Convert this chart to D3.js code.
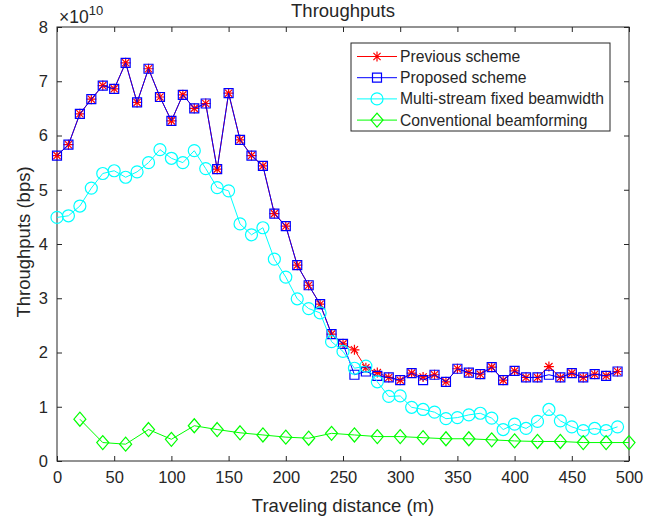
<!DOCTYPE html>
<head>
    <meta charset="utf-8">
    <style>
        body { margin: 0; background: #fff; }
        text { font-family: "Liberation Sans", Arial, sans-serif; fill: #262626; }
    </style>
</head>
<svg width="659" height="520" class="chart"></svg>
<script src="https://cdn.jsdelivr.net/npm/d3@7"></script>
<script>
    // distances (m)
    const dist = d3.range(0, 500, 10);          // 0..490
    const distConv = d3.range(20, 501, 20);     // 20..500

    // throughput values, x 1e10 bps
    const proposed = [5.63, 5.83, 6.40, 6.67, 6.92, 6.86, 7.34, 6.61, 7.23, 6.71,
                      6.27, 6.75, 6.50, 6.59, 5.38, 6.78, 5.92, 5.63, 5.44, 4.56,
                      4.33, 3.61, 3.24, 2.89, 2.34, 2.16, 1.59, 1.65, 1.57, 1.54,
                      1.49, 1.62, 1.49, 1.59, 1.46, 1.70, 1.63, 1.60, 1.73, 1.49,
                      1.66, 1.54, 1.54, 1.59, 1.54, 1.62, 1.54, 1.60, 1.57, 1.65];
    const previous = [5.63, 5.83, 6.40, 6.67, 6.92, 6.86, 7.34, 6.61, 7.23, 6.71,
                      6.27, 6.75, 6.50, 6.59, 5.38, 6.78, 5.92, 5.63, 5.44, 4.56,
                      4.33, 3.61, 3.24, 2.89, 2.34, 2.16, 2.05, 1.72, 1.63, 1.54,
                      1.49, 1.62, 1.55, 1.59, 1.46, 1.70, 1.63, 1.60, 1.73, 1.49,
                      1.66, 1.54, 1.54, 1.74, 1.54, 1.62, 1.54, 1.60, 1.57, 1.65];
    const multiStream = [4.49, 4.52, 4.70, 5.03, 5.30, 5.35, 5.23, 5.33, 5.50, 5.74,
                         5.58, 5.50, 5.72, 5.39, 5.04, 4.98, 4.37, 4.17, 4.30, 3.72,
                         3.39, 2.99, 2.81, 2.73, 2.20, 2.02, 1.71, 1.75, 1.46, 1.19,
                         1.20, 0.99, 0.95, 0.90, 0.78, 0.80, 0.85, 0.88, 0.79, 0.58,
                         0.68, 0.60, 0.73, 0.95, 0.74, 0.63, 0.56, 0.60, 0.56, 0.63];
    const conventional = [0.77, 0.34, 0.31, 0.58, 0.40, 0.65, 0.58, 0.52, 0.48, 0.44,
                          0.42, 0.51, 0.48, 0.45, 0.45, 0.43, 0.41, 0.41, 0.39, 0.37,
                          0.36, 0.36, 0.34, 0.34, 0.34];

    const xTicks = d3.range(0, 501, 50);
    const yTicks = d3.range(0, 9, 1);

    var svg = d3.select(".chart"),
        margin = {top: 27, right: 30, bottom: 59, left: 57},
        width = +svg.attr("width") - margin.left - margin.right,
        height = +svg.attr("height") - margin.top - margin.bottom;

    var x = d3.scaleLinear().domain([0, 500]).range([0, width]),
        y = d3.scaleLinear().domain([0, 8]).range([height, 0]);

    var g = svg.append("g")
        .attr("transform", "translate(" + margin.left + "," + margin.top + ")");

    // box with inward ticks on all sides
    g.append("rect").attr("width", width).attr("height", height)
        .attr("fill", "none").attr("stroke", "#262626").attr("stroke-width", 1);

    function styleAxis(sel) {
        sel.select(".domain").remove();
        sel.selectAll(".tick line").attr("stroke", "#262626");
        sel.selectAll(".tick text").attr("font-size", 16.5)
            .attr("font-family", "Liberation Sans, Arial, sans-serif").attr("fill", "#262626");
    }

    g.append("g").attr("transform", "translate(0," + height + ")")
        .call(d3.axisBottom(x).tickValues(xTicks).tickSizeInner(-5).tickPadding(10))
        .call(styleAxis);
    g.append("g")
        .call(d3.axisTop(x).tickValues(xTicks).tickSizeInner(-5).tickFormat(""))
        .call(styleAxis);
    g.append("g")
        .call(d3.axisLeft(y).tickValues(yTicks).tickSizeInner(-5).tickPadding(9))
        .call(styleAxis);
    g.append("g").attr("transform", "translate(" + width + ",0)")
        .call(d3.axisRight(y).tickValues(yTicks).tickSizeInner(-5).tickFormat(""))
        .call(styleAxis);

    // marker shapes
    const star = "M-5,0L5,0M0,-5L0,5M-3.6,-3.6L3.6,3.6M-3.6,3.6L3.6,-3.6";
    const square = "M-4.5,-4.5H4.5V4.5H-4.5Z";
    const circle = d3.symbol().type(d3.symbolCircle).size(Math.PI * 36)();
    const diamond = "M0,-7L6,0L0,7L-6,0Z";

    const series = [
        {name: "Previous scheme", xs: dist, ys: previous, color: "#ff0000", marker: star},
        {name: "Proposed scheme", xs: dist, ys: proposed, color: "#0000ff", marker: square},
        {name: "Multi-stream fixed beamwidth", xs: dist, ys: multiStream, color: "#00ffff", marker: circle},
        {name: "Conventional beamforming", xs: distConv, ys: conventional, color: "#00ff00", marker: diamond}
    ];

    var line = d3.line().x(function(d) { return x(d[0]); }).y(function(d) { return y(d[1]); });

    series.forEach(function(s) {
        var pts = s.xs.map(function(v, i) { return [v, s.ys[i]]; });
        var sg = g.append("g");
        sg.append("path").datum(pts).attr("d", line)
            .attr("fill", "none").attr("stroke", s.color).attr("stroke-width", 1);
        sg.selectAll("path.m").data(pts).enter().append("path")
            .attr("class", "m")
            .attr("d", s.marker)
            .attr("transform", function(d) { return "translate(" + x(d[0]) + "," + y(d[1]) + ")"; })
            .attr("fill", "none").attr("stroke", s.color).attr("stroke-width", 1.2);
    });

    // legend
    var lg = g.append("g").attr("transform", "translate(" + (351 - margin.left) + "," + (43 - margin.top) + ")");
    lg.append("rect").attr("width", 259).attr("height", 88)
        .attr("fill", "#fff").attr("stroke", "#262626").attr("stroke-width", 1);
    series.forEach(function(s, i) {
        var yy = 13.5 + i * 21.2;
        lg.append("line").attr("x1", 6).attr("x2", 46).attr("y1", yy).attr("y2", yy)
            .attr("stroke", s.color).attr("stroke-width", 1);
        lg.append("path").attr("d", s.marker).attr("transform", "translate(26," + yy + ")")
            .attr("fill", "none").attr("stroke", s.color).attr("stroke-width", 1.2);
        lg.append("text").attr("x", 49).attr("y", yy + 5.5).attr("font-size", 15.7).text(s.name);
    });

    // titles
    svg.append("text").attr("x", margin.left + width / 2).attr("y", 17)
        .attr("text-anchor", "middle").attr("font-size", 18.5).text("Throughputs");
    svg.append("text").attr("x", margin.left + width / 2).attr("y", 512)
        .attr("text-anchor", "middle").attr("font-size", 18.5).text("Traveling distance (m)");
    svg.append("text").attr("transform", "translate(30," + 242 + ") rotate(-90)")
        .attr("text-anchor", "middle").attr("font-size", 18.5).text("Throughputs (bps)");

    var ex = svg.append("text").attr("x", margin.left + 2).attr("y", 23).attr("font-size", 17.5);
    ex.append("tspan").text("\u00d710");
    ex.append("tspan").attr("dy", -8).attr("font-size", 13).text("10");
</script>
